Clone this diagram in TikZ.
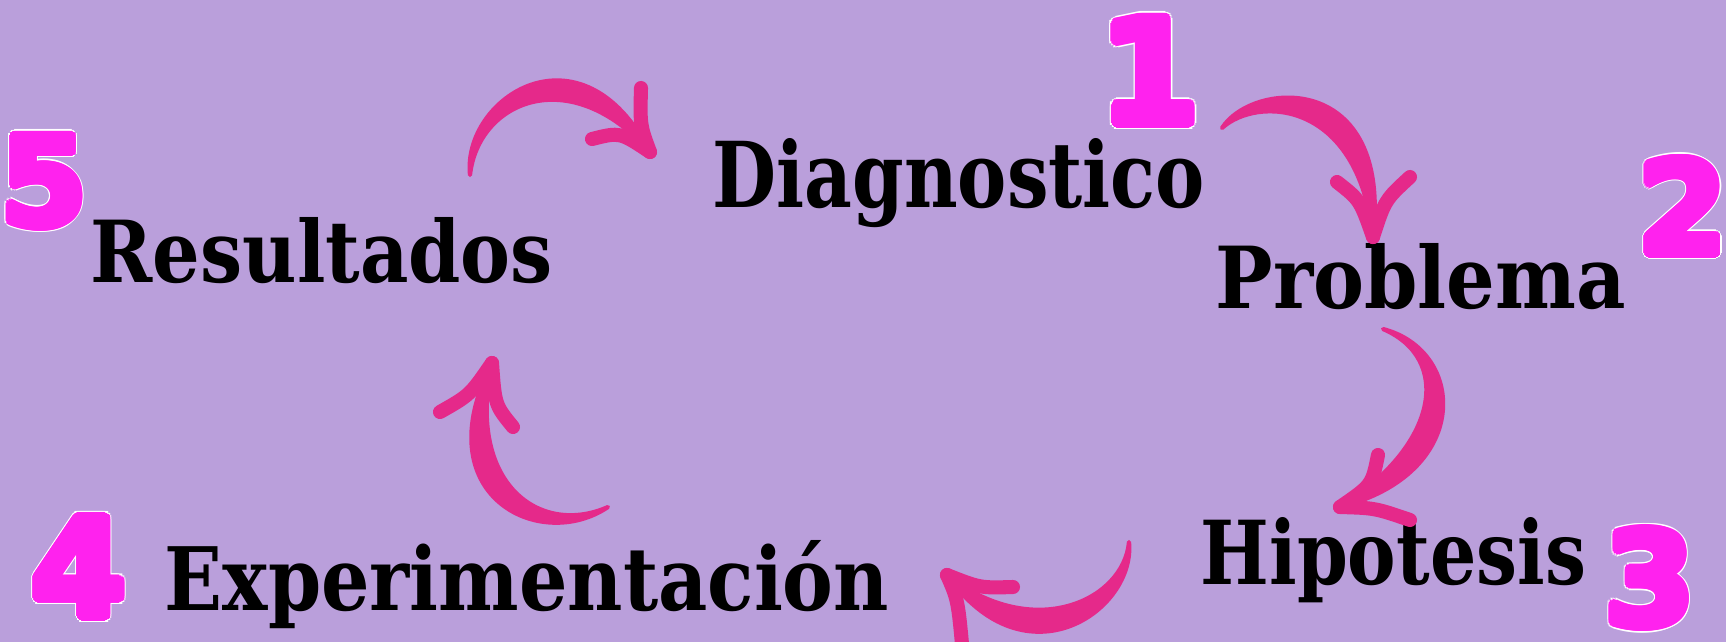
\documentclass[tikz,border=0pt]{standalone}
\usepackage{fontspec}
\usepackage[copies]{contour}
\newfontfamily\wordfont{DejaVu Serif}
\newfontfamily\numfont{DejaVu Sans}
\definecolor{lavender}{HTML}{BA9FDB}
\definecolor{arrowpink}{HTML}{E5298A}
\definecolor{numpink}{HTML}{FF22EE}
% fat pink digit with a thin white rim
\newcommand{\bubble}[1]{\rlap{\contourlength{0.45pt}\contour[16]{white}{\textcolor{white}{#1}}}\contourlength{0.35pt}\contour[16]{numpink}{#1}}
\tikzset{
  word/.style={inner sep=0pt, anchor=base west, font=\wordfont\bfseries, text=black},
  digit/.style={inner sep=0pt, font=\numfont\bfseries, text=numpink},
  swoosh/.style={fill=arrowpink, draw=arrowpink, line width=1.2pt, line join=round},
  barb/.style={draw=arrowpink, line width=4pt, line cap=round},
}
\begin{document}
\begin{tikzpicture}[x=0.01cm, y=-0.01cm]
\clip (0,0) rectangle (1726,642);
\fill[lavender] (0,0) rectangle (1726,642);

% words
\node[word] (diag) at (712,207) {\resizebox{4.92cm}{0.69cm}{Diagnostico}};
\node[word] (prob) at (1215,308) {\resizebox{4.10cm}{0.65cm}{Problema}};
\node[word] (hipo) at (1200,584) {\resizebox{3.85cm}{0.67cm}{Hipotesis}};
\node[word] (expe) at (164,610) {\resizebox{7.24cm}{0.70cm}{Experimentación}};
\node[word] (resu) at (90,282) {\resizebox{4.62cm}{0.65cm}{Resultados}};

% numbers
\node[digit] (n1) at (1150,74) {\resizebox{!}{1.05cm}{\bubble{1}}};
\node[digit] (n2) at (1683,209) {\resizebox{!}{0.95cm}{\bubble{2}}};
\node[digit] (n3) at (1650,581) {\resizebox{!}{0.96cm}{\bubble{3}}};
\node[digit] (n4) at (79,570) {\resizebox{!}{0.99cm}{\bubble{4}}};
\node[digit] (n5) at (44,184) {\resizebox{!}{0.90cm}{\bubble{5}}};

% arrows: tail t, tip p
\coordinate (t1) at (470,175); \coordinate (p1) at (650,152);
\coordinate (t2) at (1222,128); \coordinate (p2) at (1373,237);
\coordinate (t3) at (1383,329); \coordinate (p3) at (1340,507);
\coordinate (t4) at (1129,542); \coordinate (p4) at (947,575);
\coordinate (t5) at (608,507); \coordinate (p5) at (492,363);

\path[swoosh] (t1) .. controls (462,98) and (581,19) .. (p1) .. controls (569,61) and (478,102) .. (t1) -- cycle;
\draw[barb] (p1) .. controls (640,125) .. (641,88);
\draw[barb] (p1) .. controls (620,132) .. (592,139);

\path[swoosh] (t2) .. controls (1253,80) and (1392,71) .. (p2) .. controls (1358,99) and (1257,96) .. (t2) -- cycle;
\draw[barb] (p2) .. controls (1360,200) .. (1337,182);
\draw[barb] (p2) .. controls (1385,200) .. (1410,177);

\path[swoosh] (t3) .. controls (1467,351) and (1472,474) .. (p3) .. controls (1438,446) and (1453,359) .. (t3) -- cycle;
\draw[barb] (p3) .. controls (1372,485) .. (1378,455);
\draw[barb] (p3) .. controls (1375,508) .. (1410,520);

\path[swoosh] (t4) .. controls (1136,610) and (1026,687) .. (p4) .. controls (1034,643) and (1124,600) .. (t4) -- cycle;
\draw[barb] (p4) .. controls (980,588) .. (1013,587);
\draw[barb] (p4) .. controls (958,600) .. (963,655);

\path[swoosh] (t5) .. controls (540,553) and (424,496) .. (p5) .. controls (466,484) and (540,537) .. (t5) -- cycle;
\draw[barb] (p5) .. controls (470,395) .. (440,412);
\draw[barb] (p5) .. controls (495,405) .. (513,427);
\end{tikzpicture}
\end{document}
